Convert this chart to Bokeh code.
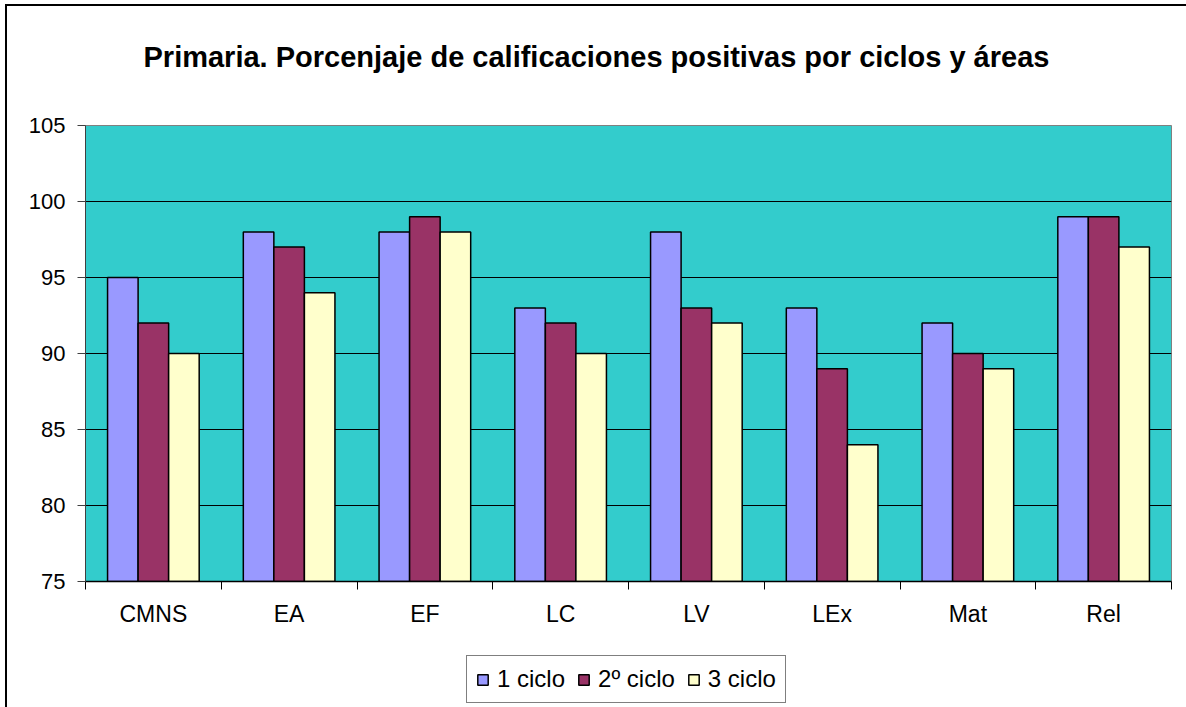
from bokeh.plotting import figure
from bokeh.layouts import column
from bokeh.models import ColumnDataSource, FixedTicker, Legend, LegendItem, Range1d, Label
from bokeh.embed import file_html
from bokeh.resources import INLINE

categories = ["CMNS", "EA", "EF", "LC", "LV", "LEx", "Mat", "Rel"]
ciclo1 = [95, 98, 98, 93, 98, 93, 92, 99]
ciclo2 = [92, 97, 99, 92, 93, 89, 90, 99]
ciclo3 = [90, 94, 98, 90, 92, 84, 89, 97]
series_names = ["1 ciclo", "2\u00ba ciclo", "3 ciclo"]
colors = ["#9999FF", "#993366", "#FFFFCC"]
y_ticks = [75, 80, 85, 90, 95, 100, 105]
title_text = "Primaria. Porcenjaje de calificaciones positivas por ciclos y \u00e1reas"

FONT = "Liberation Sans"
n = len(categories)
W = 1179


def strip(height):
    s = figure(width=W, height=height, output_backend="svg", toolbar_location=None,
               x_range=Range1d(0, 1), y_range=Range1d(0, 1),
               x_axis_location=None, y_axis_location=None,
               min_border_left=0, min_border_right=0, min_border_top=0, min_border_bottom=0)
    s.grid.visible = False
    s.outline_line_color = None
    s.background_fill_color = "white"
    s.border_fill_color = "white"
    return s


# title strip
head = strip(90)
head.add_layout(Label(x=58, y=40, x_units="screen", y_units="screen", text=title_text,
                      text_font=FONT, text_font_size="29px", text_font_style="bold",
                      text_color="black", text_align="left", text_baseline="alphabetic"))

# main chart
fig = figure(width=W, height=555, output_backend="svg", toolbar_location=None,
             x_range=Range1d(0, n), y_range=Range1d(y_ticks[0], y_ticks[-1]),
             min_border_left=78, min_border_right=15, min_border_top=29,
             min_border_bottom=70)
fig.background_fill_color = "#33CCCC"
fig.border_fill_color = "white"
fig.outline_line_color = "#808080"
fig.outline_line_width = 1

centers = [i + 0.5 for i in range(n)]
offsets = [-0.225, 0.0, 0.225]
sources = []
for vals, off, col in zip([ciclo1, ciclo2, ciclo3], offsets, colors):
    src = ColumnDataSource(dict(x=[c + off for c in centers], top=vals))
    sources.append(src)
    fig.vbar(x="x", top="top", bottom=y_ticks[0], width=0.225, source=src,
             fill_color=col, line_color="black", line_width=1.5)

# y axis
fig.yaxis.ticker = FixedTicker(ticks=y_ticks)
fig.yaxis.major_tick_out = 8
fig.yaxis.major_tick_in = 0
fig.yaxis.minor_tick_line_color = None
fig.yaxis.major_label_standoff = 12
fig.yaxis.major_label_text_font = FONT
fig.yaxis.major_label_text_font_size = "22px"
fig.yaxis.major_label_text_color = "black"
fig.yaxis.axis_line_color = "#404040"
fig.yaxis.major_tick_line_color = "#404040"

# x axis: labels at category centres, ticks at category boundaries
fig.xaxis.ticker = FixedTicker(ticks=centers, minor_ticks=list(range(n + 1)))
fig.xaxis.major_label_overrides = {c: name for c, name in zip(centers, categories)}
fig.xaxis.major_tick_line_color = None
fig.xaxis.major_tick_out = 0
fig.xaxis.major_tick_in = 0
fig.xaxis.minor_tick_out = 8
fig.xaxis.minor_tick_in = 0
fig.xaxis.minor_tick_line_color = "black"
fig.xaxis.axis_line_color = "black"
fig.xaxis.axis_line_width = 1.5
fig.xaxis.major_label_standoff = 11
fig.xaxis.major_label_text_font = FONT
fig.xaxis.major_label_text_font_size = "23px"
fig.xaxis.major_label_text_color = "black"

fig.xgrid.grid_line_color = None
fig.ygrid.grid_line_color = "black"
fig.ygrid.grid_line_width = 1

# legend strip below the chart (hidden copies of the series supply the legend keys)
leg = strip(56)
leg_renderers = []
for src, col in zip(sources, colors):
    r = leg.vbar(x="x", top="top", bottom=y_ticks[0], width=0.225, source=src,
                 fill_color=col, line_color="black", line_width=1.5)
    r.visible = False
    leg_renderers.append(r)
legend = Legend(items=[LegendItem(label=nm, renderers=[r]) for nm, r in zip(series_names, leg_renderers)],
                orientation="horizontal", location=(381, 4))
legend.label_text_font = FONT
legend.label_text_font_size = "24px"
legend.label_text_color = "black"
legend.glyph_width = 13
legend.glyph_height = 13
legend.label_standoff = 8
legend.spacing = 12
legend.padding = 9
legend.margin = 0
legend.border_line_color = "black"
legend.border_line_width = 1
legend.background_fill_color = "white"
leg.add_layout(legend)

p = column(head, fig, leg, spacing=0,
           styles={"margin-left": "5px", "margin-top": "4px",
                   "border-left": "2px solid black", "border-top": "2px solid black"})

open("out.html", "w").write(file_html(p, INLINE))
